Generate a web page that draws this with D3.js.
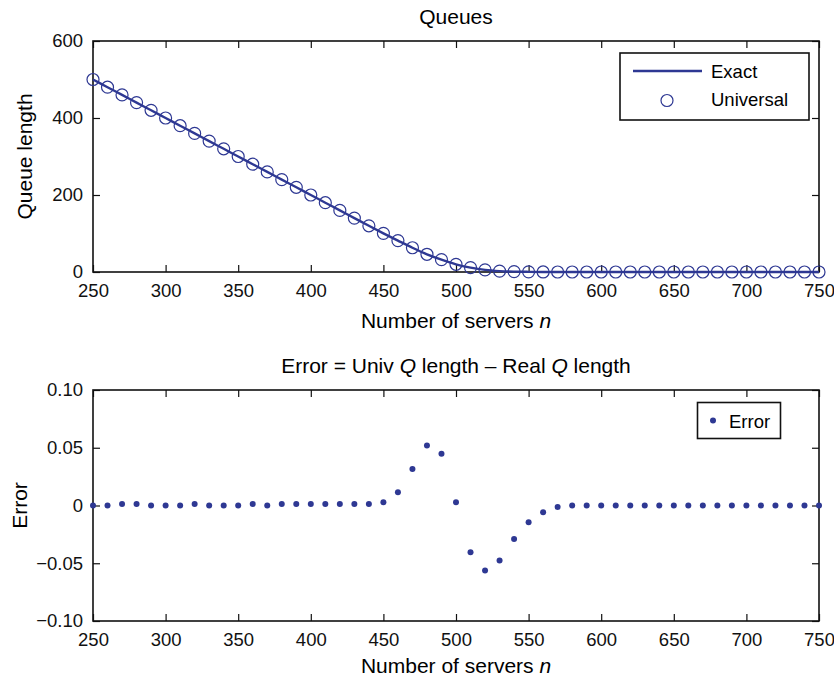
<!DOCTYPE html>
<html>
<head>
<meta charset="utf-8">
<script src="https://cdn.jsdelivr.net/npm/d3@7"></script>
<style>
    body { margin: 0; background: #fff; }
    svg { display: block; font-family: "Liberation Sans", Arial, Helvetica, sans-serif; }
    .axis text { font-size: 18.5px; fill: #111; }
    .axis line { stroke: #111; stroke-width: 1.2; }
    .axis path { display: none; }
</style>
</head>
<body>
<div id="chart"></div>
<script>

// number of servers n
let servers = [250, 260, 270, 280, 290, 300, 310, 320, 330, 340, 350, 360, 370, 380, 390, 400, 410,
    420, 430, 440, 450, 460, 470, 480, 490, 500, 510, 520, 530, 540, 550, 560, 570, 580, 590, 600,
    610, 620, 630, 640, 650, 660, 670, 680, 690, 700, 710, 720, 730, 740, 750];

// exact queue length (line)
let exactQueue = [500, 480, 460, 440, 420, 400, 380, 360, 340, 320, 300, 280, 260, 240, 220, 200, 180,
    160, 140, 120, 100.4, 81.5, 63, 46, 32, 20, 11.5, 5.5, 2.4, 1, 0.4, 0.1, 0, 0, 0, 0,
    0, 0, 0, 0, 0, 0, 0, 0, 0, 0, 0, 0, 0, 0, 0];

// universal approximation (circles)
let universalQueue = [500, 480, 460, 440, 420, 400, 380, 360, 340, 320, 300, 280, 260, 240, 220, 200, 180,
    160, 140, 120, 100.4, 81.5, 63, 46, 32, 20, 11.5, 5.5, 2.4, 1, 0.4, 0.1, 0, 0, 0, 0,
    0, 0, 0, 0, 0, 0, 0, 0, 0, 0, 0, 0, 0, 0, 0];

// univ Q length - real Q length
let errorValues = [0, 0, 0.0014, 0.0014, 0, 0, 0, 0.0014, 0, 0, 0, 0.0014, 0, 0.0014, 0.0014, 0.0014, 0.0014,
    0.0014, 0.0014, 0.0014, 0.0029, 0.0115, 0.0317, 0.052, 0.0447, 0.0029, -0.0404, -0.0563, -0.0476, -0.0289, -0.0144, -0.0058, -0.0014, 0, 0, 0,
    0, 0, 0, 0, 0, 0, 0, 0, 0, 0, 0, 0, 0, 0, 0];

let xTicks = [250, 300, 350, 400, 450, 500, 550, 600, 650, 700, 750];
let queueTicks = [0, 200, 400, 600];
let errorTicks = [-0.1, -0.05, 0, 0.05, 0.1];

let blue = "#2e3893";
let W = 834, H = 677;

let svg = d3.select("#chart").append("svg")
    .attr("width", W)
    .attr("height", H);

svg.append("rect").attr("width", W).attr("height", H).attr("fill", "#fff");

let left = 93, right = 819;

// draws box, inward ticks on all four sides, labels on bottom/left
function drawFrame(g, x, y, yFormat, yTickValues, height) {
    g.append("g")
        .attr("class", "axis")
        .attr("transform", "translate(0," + height + ")")
        .call(d3.axisBottom(x).tickValues(xTicks).tickSizeInner(-7).tickSizeOuter(0).tickPadding(12));
    g.append("g")
        .attr("class", "axis")
        .call(d3.axisTop(x).tickValues(xTicks).tickSizeInner(-7).tickSizeOuter(0).tickFormat(""));
    g.append("g")
        .attr("class", "axis")
        .call(d3.axisLeft(y).tickValues(yTickValues).tickSizeInner(-7).tickSizeOuter(0).tickPadding(10).tickFormat(yFormat));
    g.append("g")
        .attr("class", "axis")
        .attr("transform", "translate(" + (right - left) + ",0)")
        .call(d3.axisRight(y).tickValues(yTickValues).tickSizeInner(-7).tickSizeOuter(0).tickFormat(""));

    g.append("rect")
        .attr("width", right - left)
        .attr("height", height)
        .attr("fill", "none")
        .attr("stroke", "#111")
        .attr("stroke-width", 1.6);
}

/* ---------- top panel: queues ---------- */
let top1 = 41, h1 = 231;
let g1 = svg.append("g").attr("transform", "translate(" + left + "," + top1 + ")");

let x = d3.scaleLinear().domain([250, 750]).range([0, right - left]);
let y1 = d3.scaleLinear().domain([0, 600]).range([h1, 0]);

drawFrame(g1, x, y1, d3.format("d"), queueTicks, h1);

g1.append("path")
    .datum(servers.map((n, i) => [n, exactQueue[i]]))
    .attr("fill", "none")
    .attr("stroke", blue)
    .attr("stroke-width", 2.4)
    .attr("d", d3.line()
        .curve(d3.curveMonotoneX)
        .x(d => x(d[0]))
        .y(d => y1(d[1])));

g1.selectAll(".univ")
    .data(servers.map((n, i) => [n, universalQueue[i]]))
    .enter().append("circle")
    .attr("class", "univ")
    .attr("cx", d => x(d[0]))
    .attr("cy", d => y1(d[1]))
    .attr("r", 6)
    .attr("fill", "none")
    .attr("stroke", blue)
    .attr("stroke-width", 1.2);

svg.append("text")
    .attr("x", (left + right) / 2).attr("y", 23.5)
    .attr("text-anchor", "middle")
    .style("font-size", "21px")
    .text("Queues");

svg.append("text")
    .attr("transform", "translate(32," + (top1 + h1 / 2) + ") rotate(-90)")
    .attr("text-anchor", "middle")
    .style("font-size", "21px")
    .text("Queue length");

let xl1 = svg.append("text")
    .attr("x", (left + right) / 2).attr("y", 328)
    .attr("text-anchor", "middle")
    .style("font-size", "21px");
xl1.append("tspan").text("Number of servers ");
xl1.append("tspan").style("font-style", "italic").text("n");

// legend top
let leg1 = svg.append("g");
leg1.append("rect")
    .attr("x", 620).attr("y", 53).attr("width", 189).attr("height", 67)
    .attr("fill", "#fff").attr("stroke", "#111").attr("stroke-width", 1.6);
leg1.append("line")
    .attr("x1", 633).attr("x2", 702).attr("y1", 71).attr("y2", 71)
    .attr("stroke", blue).attr("stroke-width", 2.4);
leg1.append("text").attr("x", 711).attr("y", 78).style("font-size", "18.5px").text("Exact");
leg1.append("circle")
    .attr("cx", 667).attr("cy", 100.5).attr("r", 6)
    .attr("fill", "none").attr("stroke", blue).attr("stroke-width", 1.2);
leg1.append("text").attr("x", 711).attr("y", 106).style("font-size", "18.5px").text("Universal");

/* ---------- bottom panel: error ---------- */
let top2 = 390, h2 = 231;
let g2 = svg.append("g").attr("transform", "translate(" + left + "," + top2 + ")");

let y2 = d3.scaleLinear().domain([-0.1, 0.1]).range([h2, 0]);

drawFrame(g2, x, y2, d => d === 0 ? "0" : d3.format(".2f")(d), errorTicks, h2);

g2.selectAll(".err")
    .data(servers.map((n, i) => [n, errorValues[i]]))
    .enter().append("circle")
    .attr("class", "err")
    .attr("cx", d => x(d[0]))
    .attr("cy", d => y2(d[1]))
    .attr("r", 3)
    .attr("fill", blue);

let t2 = svg.append("text")
    .attr("x", (left + right) / 2).attr("y", 373)
    .attr("text-anchor", "middle")
    .style("font-size", "21px");
t2.append("tspan").text("Error = Univ ");
t2.append("tspan").style("font-style", "italic").text("Q");
t2.append("tspan").text(" length \u2013 Real ");
t2.append("tspan").style("font-style", "italic").text("Q");
t2.append("tspan").text(" length");

svg.append("text")
    .attr("transform", "translate(27," + (top2 + h2 / 2) + ") rotate(-90)")
    .attr("text-anchor", "middle")
    .style("font-size", "21px")
    .text("Error");

let xl2 = svg.append("text")
    .attr("x", (left + right) / 2).attr("y", 673)
    .attr("text-anchor", "middle")
    .style("font-size", "21px");
xl2.append("tspan").text("Number of servers ");
xl2.append("tspan").style("font-style", "italic").text("n");

// legend bottom
let leg2 = svg.append("g");
leg2.append("rect")
    .attr("x", 697.5).attr("y", 402.5).attr("width", 83).attr("height", 36)
    .attr("fill", "#fff").attr("stroke", "#111").attr("stroke-width", 1.6);
leg2.append("circle").attr("cx", 713).attr("cy", 420.5).attr("r", 3).attr("fill", blue);
leg2.append("text").attr("x", 729).attr("y", 427.5).style("font-size", "18.5px").text("Error");

</script>
</body>
</html>
